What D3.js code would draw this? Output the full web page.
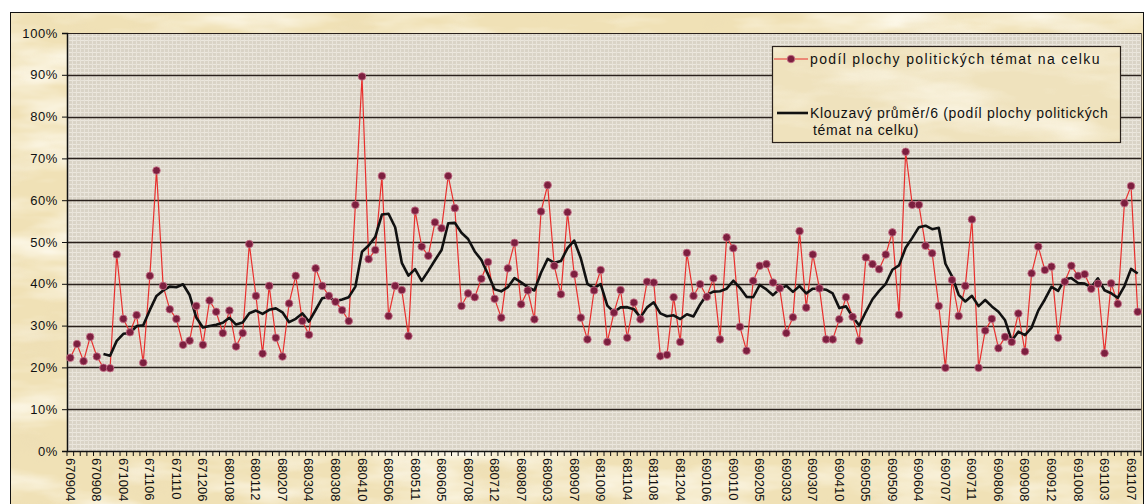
<!DOCTYPE html>
<html><head><meta charset="utf-8">
<script src="https://cdn.jsdelivr.net/npm/d3@7"></script>
<style>html,body{margin:0;padding:0;background:#fff;}svg{display:block;}</style>
</head><body>
<svg id="chart" width="1146" height="504"></svg>
<script>
// ---- data ----
const tickLabels = ["670904","670908","671004","671106","671110","671206","680108","680112","680207","680304","680308","680410","680506","680511","680605","680708","680712","680807","680903","680907","681009","681104","681108","681204","690106","690110","690205","690303","690307","690410","690505","690509","690604","690707","690711","690806","690908","690912","691008","691103","691107"];
const shareValues = [22.3,25.6,21.5,27.3,22.6,19.9,19.8,47.0,31.6,28.4,32.5,21.1,41.9,67.1,39.5,33.9,31.6,25.4,26.4,34.7,
25.4,36.0,33.3,28.2,33.6,25.0,28.2,49.5,37.1,23.3,39.5,27.1,22.6,35.3,41.9,31.1,27.8,43.7,39.5,37.1,
35.7,33.7,31.1,58.9,89.6,45.9,48.1,65.8,32.3,39.5,38.5,27.5,57.5,48.9,46.7,54.7,53.3,65.8,58.1,34.7,
37.7,36.8,41.2,45.2,36.4,31.9,43.7,49.8,35.1,38.4,31.5,57.3,63.6,44.3,37.5,57.1,42.3,31.9,26.7,38.4,
43.3,26.1,33.1,38.5,27.1,35.5,31.5,40.5,40.3,22.7,23.0,36.8,26.1,47.4,37.1,39.9,36.9,41.3,26.7,51.1,
48.5,29.7,24.0,40.7,44.3,44.7,40.3,38.9,28.2,32.0,52.6,34.3,47.0,38.9,26.7,26.7,31.5,36.8,32.1,26.4,
46.3,44.7,43.5,47.0,52.3,32.6,71.6,58.9,58.9,49.1,47.3,34.7,19.9,40.9,32.3,39.5,55.4,19.9,28.8,31.6,
24.6,27.3,26.1,32.9,23.8,42.5,48.9,43.3,44.1,27.1,40.5,44.3,41.9,42.3,38.8,40.0,23.4,40.1,35.2,59.3,
63.4,33.3];
const yTicks = [0,10,20,30,40,50,60,70,80,90,100];
const maPeriod = 6;
const seriesName = "podíl plochy politických témat na celku";
const maNameLines = ["Klouzavý průměr/6 (podíl plochy politických","témat na celku)"];

// moving average trendline (Excel "Klouzavý průměr", period 6)
const maValues = shareValues.map((v,i)=> i < maPeriod-1 ? null : d3.mean(shareValues.slice(i-maPeriod+1,i+1)));

const svg = d3.select("#chart");
const defs = svg.append("defs");

// parchment texture
const fp = defs.append("filter").attr("id","parch").attr("x",0).attr("y",0).attr("width",1).attr("height",1);
fp.append("feTurbulence").attr("type","fractalNoise").attr("baseFrequency","0.008 0.03").attr("numOctaves",4).attr("seed",7).attr("result","n");
fp.append("feColorMatrix").attr("in","n").attr("type","matrix")
  .attr("values","0 0 0 0 0.99  0 0 0 0 0.96  0 0 0 0 0.86  2.2 0 0 0 -0.95");
const fp2 = defs.append("filter").attr("id","parch2").attr("x",0).attr("y",0).attr("width",1).attr("height",1);
fp2.append("feTurbulence").attr("type","fractalNoise").attr("baseFrequency","0.015 0.02").attr("numOctaves",3).attr("seed",21).attr("result","n");
fp2.append("feColorMatrix").attr("in","n").attr("type","matrix")
  .attr("values","0 0 0 0 0.80  0 0 0 0 0.68  0 0 0 0 0.45  -2.0 0 0 0 0.95");
// canvas grain
const fg = defs.append("filter").attr("id","grain").attr("x",0).attr("y",0).attr("width",1).attr("height",1);
fg.append("feTurbulence").attr("type","fractalNoise").attr("baseFrequency","0.25 0.5").attr("numOctaves",2).attr("seed",3).attr("result","n");
fg.append("feColorMatrix").attr("in","n").attr("type","matrix")
  .attr("values","0 0 0 0 0.60  0 0 0 0 0.56  0 0 0 0 0.48  -1.6 0 0 0 0.95");

// canvas weave pattern
const pat = defs.append("pattern").attr("id","weave").attr("patternUnits","userSpaceOnUse").attr("width",4).attr("height",4);
pat.append("rect").attr("width",4).attr("height",4).attr("fill","#dad4c7");
pat.append("rect").attr("x",0).attr("y",0).attr("width",4).attr("height",1).attr("fill","#ece8df");
pat.append("rect").attr("x",0).attr("y",0).attr("width",1).attr("height",4).attr("fill","#e9e4da");

// chart area
const CA = {x:10.5, y:12.5, w:1133, h:520};
svg.append("rect").attr("x",CA.x).attr("y",CA.y).attr("width",CA.w).attr("height",CA.h).attr("fill","#f0e1b6");
svg.append("rect").attr("x",CA.x).attr("y",CA.y).attr("width",CA.w).attr("height",CA.h).attr("filter","url(#parch)");
svg.append("rect").attr("x",CA.x).attr("y",CA.y).attr("width",CA.w).attr("height",CA.h).attr("filter","url(#parch2)").attr("opacity",0.3);
svg.append("rect").attr("x",CA.x).attr("y",CA.y).attr("width",CA.w).attr("height",CA.h).attr("fill","none").attr("stroke","#111").attr("stroke-width",1);

// scales
const P = {l:67, r:1141, t:33, b:451};
const x = d3.scaleBand().domain(d3.range(shareValues.length)).range([P.l,P.r]).paddingInner(0).paddingOuter(0);
const y = d3.scaleLinear().domain([0,100]).range([P.b,P.t]);
const cx = i => x(i) + x.bandwidth()/2;

// plot area
svg.append("rect").attr("x",P.l).attr("y",P.t).attr("width",P.r-P.l).attr("height",P.b-P.t).attr("fill","url(#weave)");
svg.append("rect").attr("x",P.l).attr("y",P.t).attr("width",P.r-P.l).attr("height",P.b-P.t).attr("filter","url(#grain)").attr("opacity",0.25);
svg.append("line").attr("x1",P.r+0.5).attr("x2",P.r+0.5).attr("y1",P.t).attr("y2",P.b).attr("stroke","#6a6256").attr("stroke-width",1);

// gridlines
svg.append("g").selectAll("line").data(yTicks.filter(d=>d>0)).join("line")
  .attr("x1",P.l).attr("x2",P.r).attr("y1",d=>Math.round(y(d))+0.5).attr("y2",d=>Math.round(y(d))+0.5)
  .attr("stroke","#2a211c").attr("stroke-width",d=>d===100?1:1.6);

// y axis
const yAxis = d3.axisLeft(y).tickValues(yTicks).tickSize(5).tickFormat(d=>d+"%");
const gy = svg.append("g").attr("transform",`translate(${P.l},0)`).call(yAxis);
gy.select(".domain").attr("stroke","#111").attr("stroke-width",1.5);
gy.selectAll(".tick line").attr("stroke","#111");
gy.selectAll(".tick text").attr("x",-9).attr("font-family","Liberation Sans, Arial, sans-serif").attr("font-size",13).attr("letter-spacing",0.6).attr("fill","#111");

// x axis
const xAxis = d3.axisBottom(x).tickValues(d3.range(0,shareValues.length,4)).tickSize(0).tickFormat(d=>tickLabels[d/4]);
const gx = svg.append("g").attr("transform",`translate(0,${P.b})`).call(xAxis);
gx.select(".domain").attr("stroke","#111").attr("stroke-width",1.5);
gx.selectAll(".tick text")
  .attr("font-family","Liberation Sans, Arial, sans-serif").attr("font-size",13).attr("fill","#111")
  .attr("text-anchor","start").attr("dy",null)
  .attr("transform","translate(-4.5,7) rotate(90)").attr("y",0).attr("x",0);
// category boundary ticks
svg.append("g").selectAll("line").data(d3.range(shareValues.length+1)).join("line")
  .attr("x1",i=> i<shareValues.length ? x(i) : P.r).attr("x2",i=> i<shareValues.length ? x(i) : P.r)
  .attr("y1",P.b).attr("y2",P.b+5).attr("stroke","#111").attr("stroke-width",1);

// series line
const line = d3.line().x((d,i)=>cx(i)).y(d=>y(d));
svg.append("path").datum(shareValues).attr("d",line).attr("fill","none").attr("stroke","#e8302e").attr("stroke-width",1.2).attr("stroke-linejoin","round");

// moving average
const maLine = d3.line().defined(d=>d!==null).x((d,i)=>cx(i)).y(d=>y(d));
svg.append("path").datum(maValues).attr("d",maLine).attr("fill","none").attr("stroke","#111").attr("stroke-width",2.6).attr("stroke-linejoin","round");

// markers
svg.append("g").selectAll("circle").data(shareValues).join("circle")
  .attr("cx",(d,i)=>cx(i)).attr("cy",d=>y(d)).attr("r",3.8)
  .attr("fill","#7c1f3f").attr("stroke","#c8728a").attr("stroke-width",0.8);

// legend
const L = {x:772.5, y:46.5, w:348, h:96};
svg.append("rect").attr("x",L.x).attr("y",L.y).attr("width",L.w).attr("height",L.h).attr("fill","#efe2bd");
svg.append("rect").attr("x",L.x).attr("y",L.y).attr("width",L.w).attr("height",L.h).attr("filter","url(#parch)").attr("opacity",0.8);
svg.append("rect").attr("x",L.x).attr("y",L.y).attr("width",L.w).attr("height",L.h).attr("fill","none").attr("stroke","#2a211c").attr("stroke-width",1.2);
const lg = svg.append("g").attr("font-family","Liberation Sans, Arial, sans-serif").attr("font-size",14).attr("fill","#111");
lg.append("line").attr("x1",774).attr("x2",808).attr("y1",59).attr("y2",59).attr("stroke","#e8302e").attr("stroke-width",1.2);
lg.append("circle").attr("cx",791).attr("cy",59).attr("r",3.8).attr("fill","#7c1f3f").attr("stroke","#c8728a").attr("stroke-width",0.8);
lg.append("text").attr("x",810).attr("y",64).attr("letter-spacing",1.35).text(seriesName);
lg.append("line").attr("x1",777).attr("x2",808).attr("y1",113).attr("y2",113).attr("stroke","#111").attr("stroke-width",2.6);
lg.append("text").attr("x",810).attr("y",118).attr("letter-spacing",0.7).text(maNameLines[0]);
lg.append("text").attr("x",813).attr("y",135).attr("letter-spacing",0.7).text(maNameLines[1]);
</script>
</body></html>
